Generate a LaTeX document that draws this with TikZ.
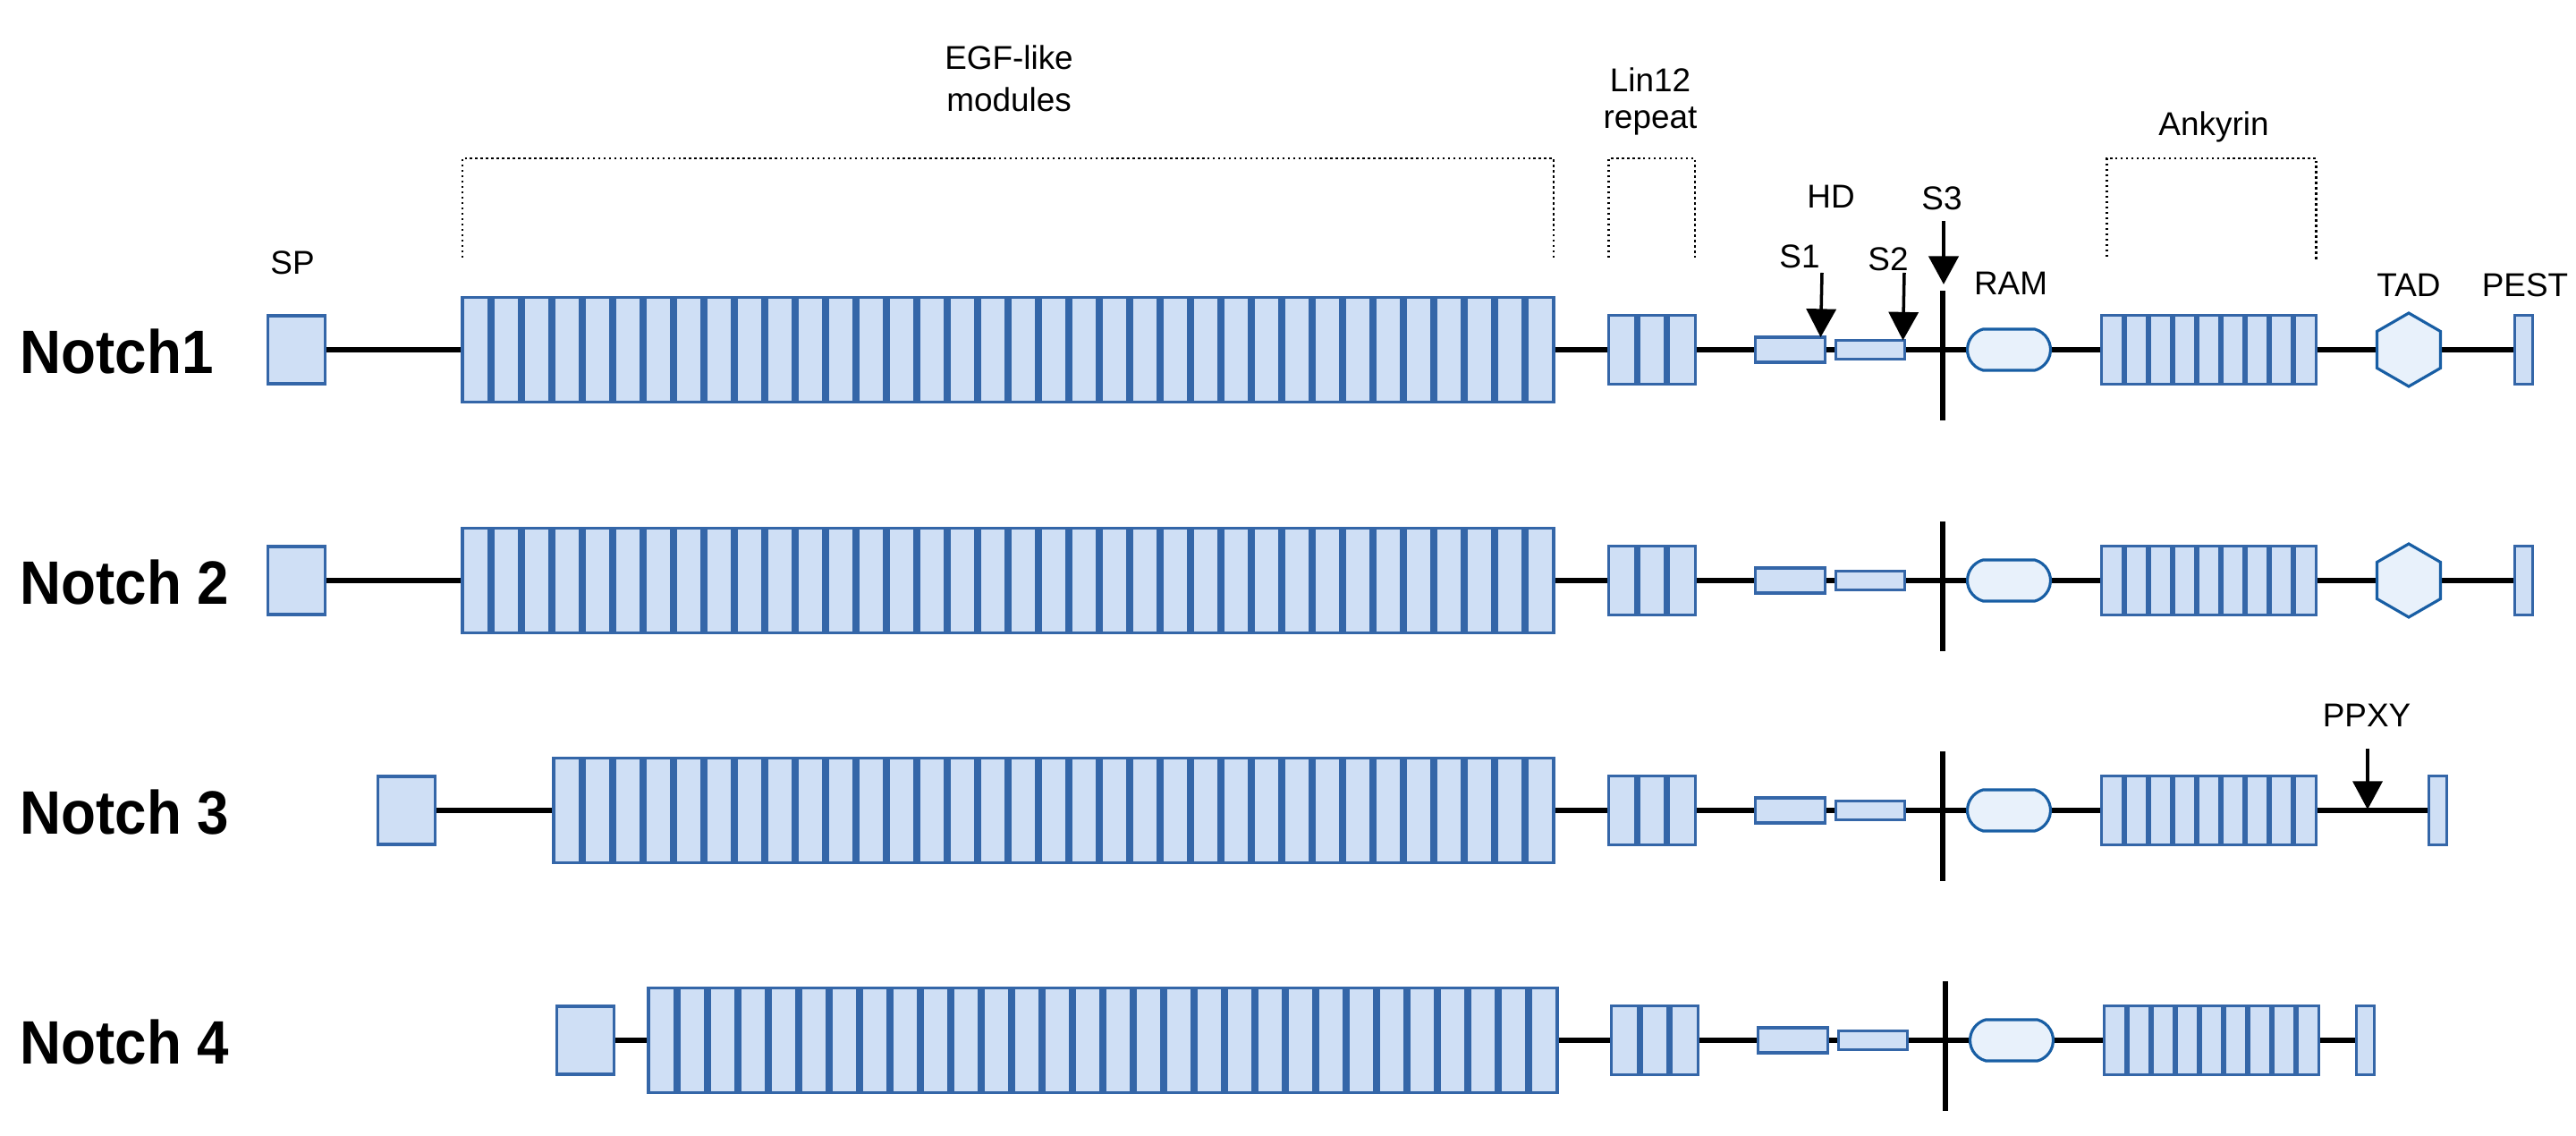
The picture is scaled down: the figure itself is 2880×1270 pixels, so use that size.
\documentclass[tikz,border=0pt]{standalone}
\usepackage{graphicx}
\usepackage{fontspec}
\setmainfont{Liberation Sans}
\usetikzlibrary{shapes.geometric,shapes.misc,arrows.meta,calc,backgrounds}
\definecolor{boxfill}{RGB}{207,223,245}
\definecolor{boxline}{RGB}{52,102,168}
\definecolor{softfill}{RGB}{232,241,251}
\definecolor{softline}{RGB}{24,94,164}
\tikzset{
  dom/.style={draw=boxline, fill=boxfill, line width=0.9pt, inner sep=0pt, outer sep=0pt},
  egfbox/.style={dom, minimum width=3.0mm, minimum height=11.7mm},
  linbox/.style={dom, minimum width=3.0mm, minimum height=7.7mm},
  ankbox/.style={dom, minimum width=2.4mm, minimum height=7.7mm},
  spbox/.style={dom, minimum width=6.4mm, minimum height=7.6mm},
  hdbox/.style={dom, minimum width=7.8mm, minimum height=2.8mm},
  hdsmall/.style={dom, minimum width=7.7mm, minimum height=2.1mm},
  pestbox/.style={dom, minimum width=2.0mm, minimum height=7.7mm},
  ramshape/.style={draw=softline, fill=softfill, line width=0.9pt, rounded rectangle,
    rounded rectangle arc length=150, minimum width=9.3mm, minimum height=4.6mm, inner sep=0pt, outer sep=0pt},
  tadshape/.style={draw=softline, fill=softfill, line width=0.9pt, regular polygon,
    regular polygon sides=6, regular polygon rotate=30, minimum size=8.2mm, inner sep=0pt, outer sep=0pt},
  backbone/.style={line width=1.7pt, black},
  tmline/.style={line width=1.6pt, black},
  cleave/.style={line width=1pt, black, -{Triangle[width=9.4pt,length=9pt]}},
  bracket/.style={line width=0.7pt, black, dash pattern=on 0.7pt off 1pt},
  lbl/.style={font=\fontsize{10.5}{12.6}\selectfont, inner sep=0pt, anchor=base},
  rowlbl/.style={font=\fontsize{19.5}{23}\selectfont\bfseries, inner sep=0pt, anchor=base west},
}
% #1 id, #2 Y, #3 SP left, #4 EGF left, #5 EGF count, #6 dx, #7 PEST left, #8 row label
\newcommand\notchrow[8]{%
  \node[rowlbl] (#1name) at (22, {#2+27}) {\scalebox{0.93}[1]{#8}};
  \node[spbox] (#1sp) at ({#3+33.5}, #2) {};
  \foreach \i in {1,...,#5} {
    \node[egfbox] (#1egf\i) at ({#4+34*\i-17}, #2) {};
  }
  \foreach \i in {1,2,3} {
    \node[linbox] (#1lin\i) at ({1797+#6+33.3*\i-16.65}, #2) {};
  }
  \node[hdbox] (#1hdA) at ({2001.5+#6}, #2) {};
  \node[hdsmall] (#1hdB) at ({2091+#6}, #2) {};
  \node[ramshape] (#1ram) at ({2246+#6}, #2) {};
  \foreach \i in {1,...,9} {
    \node[ankbox] (#1ank\i) at ({2348+#6+27*\i-13.5}, #2) {};
  }
  \node[pestbox] (#1pest) at ({#7+11.5}, #2) {};
  \coordinate (#1tmT) at ({2172+#6}, {#2-66});
  \coordinate (#1tmB) at ({2172+#6}, {#2+79});
  \begin{scope}[on background layer]
    \draw[backbone] (#1sp.center) -- (#1pest.center);
  \end{scope}
  \draw[tmline] (#1tmT) -- (#1tmB);
}
\begin{document}
\begin{tikzpicture}[x=0.1mm, y=-0.1mm]
\useasboundingbox (0,0) rectangle (2880,1270);
\begin{scope}[on background layer]
\fill[white] (0,0) rectangle (2880,1270);
\end{scope}

\notchrow{a}{391}{298}{515}{36}{0}{2810}{Notch1}
\notchrow{b}{649}{298}{515}{36}{0}{2810}{Notch 2}
\notchrow{c}{906}{421}{617}{33}{0}{2714}{Notch 3}
\notchrow{d}{1163}{621}{723}{30}{3}{2633}{Notch 4}

\node[tadshape] (atad) at (2693,391) {};
\node[tadshape] (btad) at (2693,649) {};

% brackets
\coordinate (egfL) at (aegf1.north west);
\coordinate (egfR) at (aegf36.north east);
\coordinate (linL) at (alin1.north west);
\coordinate (linR) at (alin3.north east);
\coordinate (ankLft) at ($(aank1.north west)+(6,0)$);
\coordinate (ankRgt) at (aank9.north east);
\draw[bracket] (egfL |- 0,288) -- (egfL |- 0,177) -- (egfR |- 0,177) -- (egfR |- 0,290);
\draw[bracket] (linL |- 0,288) -- (linL |- 0,177) -- (linR |- 0,177) -- (linR |- 0,288);
\draw[bracket] (ankLft |- 0,287) -- (ankLft |- 0,177) -- (ankRgt |- 0,177) -- (ankRgt |- 0,290);

% labels
\node[lbl] (egfA) at (1128,78) {EGF-like};
\node[lbl] (egfB) at (1128,125) {modules};
\node[lbl] (linA) at (1845,103) {Lin12};
\node[lbl] (linB) at (1845,144) {repeat};
\node[lbl] (ankL) at (2475,152) {Ankyrin};
\node[lbl] (spL) at (327,307) {SP};
\node[lbl] (hdL) at (2047,233) {HD};
\node[lbl] (s1L) at (2012,300) {S1};
\node[lbl] (s2L) at (2111,303) {S2};
\node[lbl] (s3L) at (2171,235) {S3};
\node[lbl] (ramL) at (2248,330) {RAM};
\node[lbl] (tadL) at (2693,332) {TAD};
\node[lbl] (pestL) at (2823,332) {PEST};
\node[lbl] (ppxyL) at (2646,813) {PPXY};

% cleavage arrows
\coordinate (s1start) at (2037,305);
\coordinate (s2start) at (2129,305);
\coordinate (s3start) at (2173,247);
\coordinate (s3end) at (2173,318);
\coordinate (ppxystart) at (2647,837);
\coordinate (ppxyend) at (2647,905);
\draw[cleave] (s1start) -- ($(ahdA.north east)+(-5,0)$);
\draw[cleave] (s2start) -- ($(ahdB.north east)+(-2,0)$);
\draw[cleave, line width=1.3pt] (s3start) -- (s3end);
\draw[cleave] (ppxystart) -- (ppxyend);
\end{tikzpicture}
\end{document}
